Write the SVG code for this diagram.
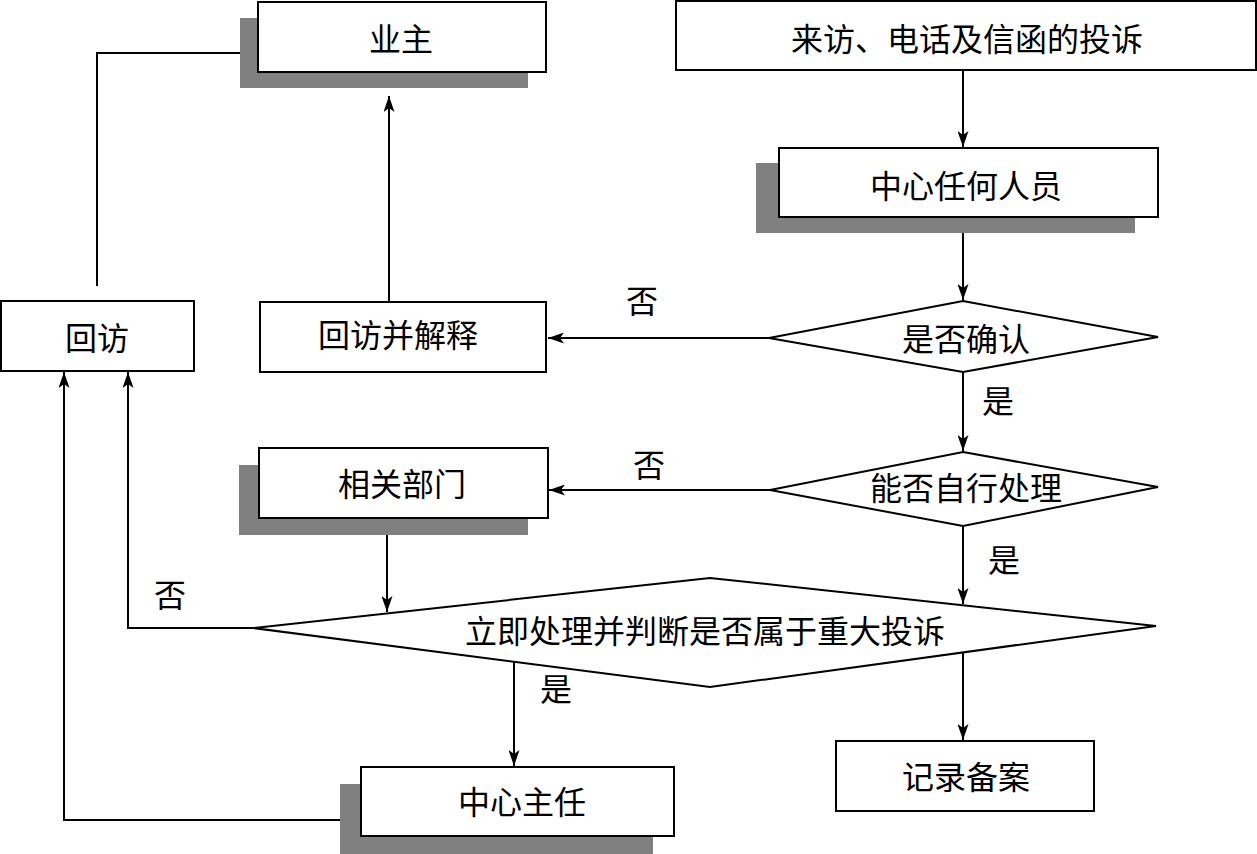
<svg xmlns="http://www.w3.org/2000/svg" width="1257" height="854" viewBox="0 0 1257 854">
<defs>
<style>
.box{fill:#fff;stroke:#000;stroke-width:2}
.sh{fill:#808080;stroke:none}
.dia{fill:#fff;stroke:#000;stroke-width:2}
.t{font-family:"Liberation Serif","Noto Sans CJK SC",serif;font-size:32px;fill:#000;text-anchor:middle;dominant-baseline:central}
.ln{fill:none;stroke:#000;stroke-width:2}
.ar{fill:none;stroke:#000;stroke-width:2;marker-end:url(#ah)}
</style>
<marker id="ah" viewBox="0 0 16 11" refX="16" refY="5.5" markerWidth="16" markerHeight="11" markerUnits="userSpaceOnUse" orient="auto">
<path d="M0,0 L16,5.5 L0,11 L4,5.5 Z" fill="#000"/>
</marker>
</defs>
<rect width="1257" height="854" fill="#fff"/>

<g id="connectors">
<path class="ar" d="M963,70 L963,147"/>
<path class="ar" d="M963,233 L963,300"/>
<path class="ar" d="M769,338 L548,338"/>
<path class="ar" d="M389,302 L389,96"/>
<path class="ln" d="M97,286 L97,53 L240,53"/>
<path class="ar" d="M963,372 L963,451"/>
<path class="ar" d="M770,490 L549,490"/>
<path class="ar" d="M387,535 L387,612"/>
<path class="ar" d="M963,526 L963,604"/>
<path class="ar" d="M253,628 L128,628 L128,372"/>
<path class="ar" d="M514,662 L514,766"/>
<path class="ar" d="M340,820 L64,820 L64,372"/>
<path class="ar" d="M963,652 L963,740"/>
</g>

<g id="labels">
<text class="t" x="642" y="302">否</text>
<text class="t" x="998" y="402">是</text>
<text class="t" x="649" y="466">否</text>
<text class="t" x="1004" y="561">是</text>
<text class="t" x="170" y="596">否</text>
<text class="t" x="556" y="690">是</text>
</g>

<g id="n-yezhu">
<rect class="sh" x="240" y="18" width="288" height="70"/>
<rect class="box" x="258" y="2" width="288" height="70"/>
<text class="t" x="401" y="40">业主</text>
</g>

<g id="n-complaint">
<rect class="box" x="676" y="1" width="580" height="69"/>
<text class="t" x="967" y="40">来访、电话及信函的投诉</text>
</g>

<g id="n-staff">
<rect class="sh" x="756" y="163" width="379" height="70"/>
<rect class="box" x="779" y="148" width="379" height="69"/>
<text class="t" x="966" y="187">中心任何人员</text>
</g>

<g id="n-confirm">
<polygon class="dia" points="963,301 1158,337 963,372 769,338"/>
<text class="t" x="966" y="340">是否确认</text>
</g>

<g id="n-explain">
<rect class="box" x="260" y="302" width="286" height="70"/>
<text class="t" x="398" y="336">回访并解释</text>
</g>

<g id="n-revisit">
<rect class="box" x="1" y="301" width="193" height="70"/>
<text class="t" x="97" y="339">回访</text>
</g>

<g id="n-self">
<polygon class="dia" points="963,452 1158,487 963,526 770,490"/>
<text class="t" x="966" y="489">能否自行处理</text>
</g>

<g id="n-dept">
<rect class="sh" x="239" y="465" width="289" height="70"/>
<rect class="box" x="259" y="448" width="289" height="70"/>
<text class="t" x="402" y="485">相关部门</text>
</g>

<g id="n-judge">
<polygon class="dia" points="710,578 1156,626 710,687 253,628"/>
<text class="t" x="705" y="632">立即处理并判断是否属于重大投诉</text>
</g>

<g id="n-director">
<rect class="sh" x="340" y="784" width="313" height="70"/>
<rect class="box" x="361" y="767" width="313" height="69"/>
<text class="t" x="522" y="803">中心主任</text>
</g>

<g id="n-record">
<rect class="box" x="836" y="741" width="258" height="70"/>
<text class="t" x="966" y="778">记录备案</text>
</g>
</svg>
